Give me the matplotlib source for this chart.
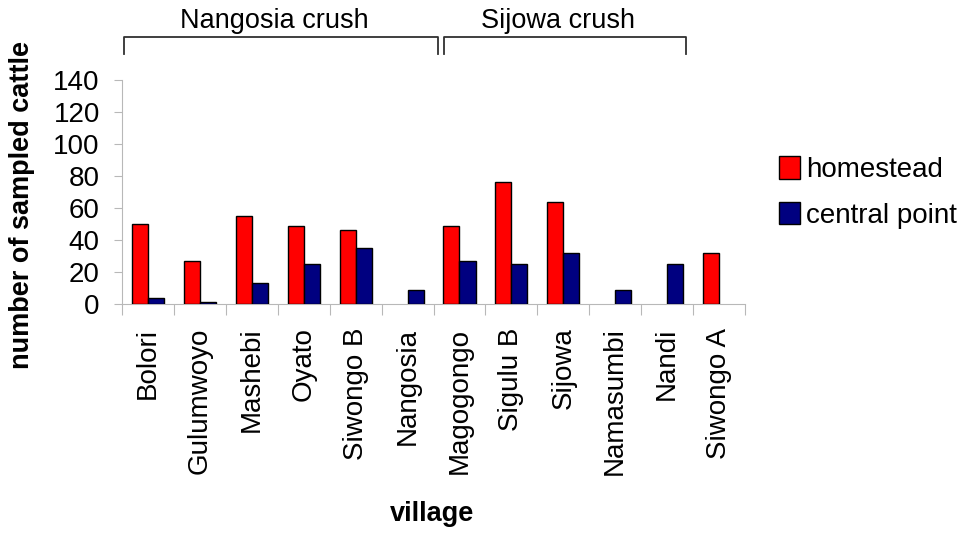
import numpy as np
import matplotlib
matplotlib.use("Agg")
import matplotlib.pyplot as plt
from matplotlib.ticker import FixedLocator, NullFormatter

plt.rcParams['font.family'] = ['Liberation Sans', 'DejaVu Sans']

villages = ["Bolori", "Gulumwoyo", "Mashebi", "Oyato", "Siwongo B", "Nangosia",
            "Magogongo", "Sigulu B", "Sijowa", "Namasumbi", "Nandi", "Siwongo A"]
homestead = [50, 27, 55, 49, 46, np.nan, 49, 76, 64, np.nan, np.nan, 32]
central_point = [4, 1, 13, 25, 35, 9, 27, 25, 32, 9, 25, np.nan]
y_ticks = [0, 20, 40, 60, 80, 100, 120, 140]

# crush groupings: (label, first village index, last village index)
crushes = [("Nangosia crush", 0, 5), ("Sijowa crush", 6, 10)]

fs = 19.5
fig = plt.figure(figsize=(9.65, 5.35), dpi=100)
ax = fig.add_axes([122 / 965, 1 - 304 / 535, 623 / 965, 224 / 535])

x = np.arange(len(villages))
w = 0.31
ax.bar(x - w / 2, homestead, width=w, color="#ff0000", edgecolor="black",
       linewidth=1.0, label="homestead", zorder=3)
ax.bar(x + w / 2, central_point, width=w, color="#000080", edgecolor="black",
       linewidth=1.0, label="central point", zorder=3)

ax.set_xlim(-0.5, len(villages) - 0.5)
ax.set_ylim(0, 140)
ax.set_yticks(y_ticks)
ax.set_yticklabels([str(v) for v in y_ticks], fontsize=20)

ax.set_xticks(x)
ax.set_xticklabels(villages, rotation=90, fontsize=20, ha="center", va="top")
ax.tick_params(axis="x", which="major", length=0, pad=17)
ax.xaxis.set_minor_locator(FixedLocator(np.arange(-0.5, len(villages) + 0.5, 1)))
ax.xaxis.set_minor_formatter(NullFormatter())
ax.tick_params(axis="x", which="minor", length=8, color="#b8b8b8", width=0.8)
ax.tick_params(axis="y", length=6, color="#b8b8b8", width=0.8, pad=10)

for side in ("top", "right"):
    ax.spines[side].set_visible(False)
for side in ("left", "bottom"):
    ax.spines[side].set_color("#b8b8b8")
    ax.spines[side].set_linewidth(0.8)

# brackets spanning each crush's villages
bracket_top = 167
bracket_foot = 156
for k, (label, i0, i1) in enumerate(crushes):
    xl = i0 - (0.46 if k == 0 else 0.29)
    xr = i1 + (0.58 if k == 0 else 0.36)
    ax.plot([xl, xl, xr, xr], [bracket_foot, bracket_top, bracket_top, bracket_foot],
            color="#303030", linewidth=1.3, clip_on=False)
    ax.text((xl + xr) / 2 - 0.13, 172.5, label, fontsize=fs, ha="center",
            va="baseline", clip_on=False)

fig.text(22 / 965, 1 - 205 / 535, "number of sampled cattle", rotation=90,
         fontsize=fs, fontweight="bold", ha="center", va="center")
fig.text(432 / 965, 1 - 514 / 535, "village", fontsize=fs, fontweight="bold",
         ha="center", va="center")

leg = ax.legend(loc="upper left", bbox_to_anchor=(779 / 965, 1 - 156 / 535),
                bbox_transform=fig.transFigure, frameon=False, fontsize=20,
                handlelength=0.74, handleheight=0.87, handletextpad=0.25,
                labelspacing=0.68, borderpad=0, borderaxespad=0)

fig.savefig("out.png", dpi=100, facecolor="white")
